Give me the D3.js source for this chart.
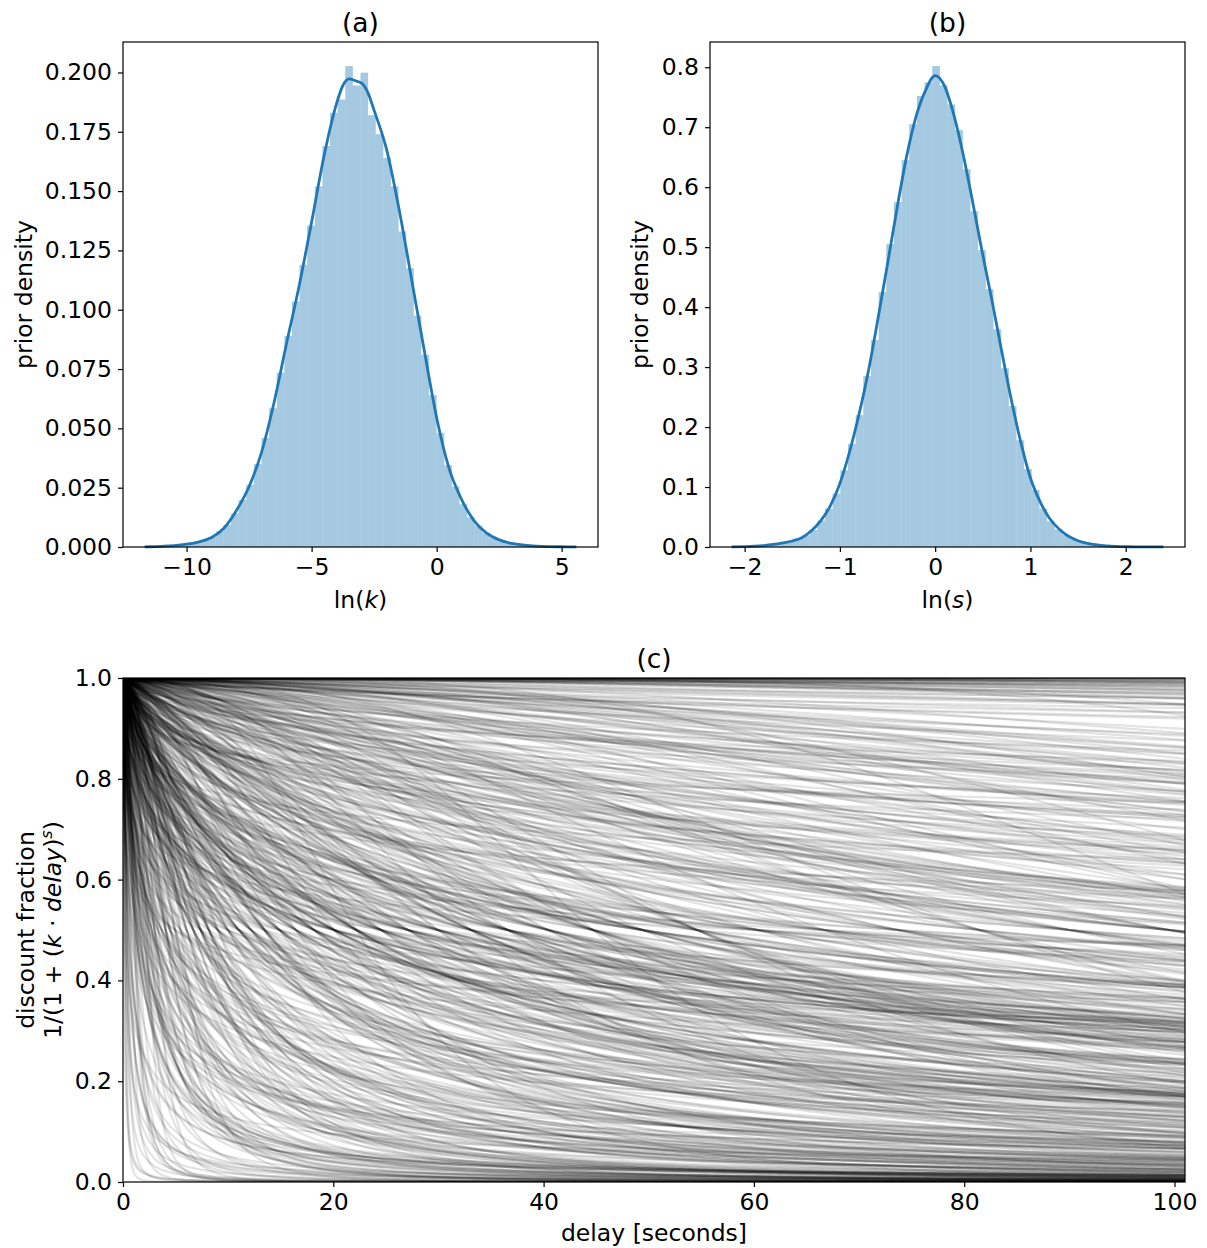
<!DOCTYPE html>
<html><head><meta charset="utf-8">
<script src="https://cdn.jsdelivr.net/npm/d3@7"></script>
<style>
html,body{margin:0;padding:0;background:#fff;}
svg{display:block;font-family:"DejaVu Sans",sans-serif;}
</style></head><body>
<svg id="chart" width="1207" height="1248"></svg>
<script>
// ---------------- data ----------------
// (a) histogram of ln(k): 50 bins
const lnkBinStart = -10.66;
const lnkBinWidth = 0.3046;
const lnkHist = [0.0005,0.0009,0.0014,0.0019,0.0028,0.0042,0.0066,0.0094,0.0142,0.0198,
  0.0262,0.0350,0.0460,0.0585,0.0735,0.0890,0.1035,0.1190,0.1355,0.1520,
  0.1690,0.1830,0.1886,0.2027,0.1945,0.1999,0.1820,0.1740,0.1640,0.1520,
  0.1330,0.1175,0.0975,0.0810,0.0640,0.0480,0.0345,0.0255,0.0180,0.0125,
  0.0090,0.0060,0.0038,0.0024,0.0014,0.0009,0.0005,0.0005,0.0,0.0005];
// (a) KDE of ln(k)
const lnkKdeX = [-11.68,-11.5,-11,-10.5,-10,-9.5,-9,-8.5,-8,-7.5,-7,-6.5,-6,-5.5,-5,-4.5,-4,-3.75,-3.5,-3.25,-3,-2.75,-2.5,-2,-1.5,-1,-0.5,0,0.5,1,1.5,2,2.5,3,3.5,4,4.5,5,5.59];
const lnkKdeY = [0.00005,0.0001,0.0003,0.0006,0.0012,0.0022,0.0040,0.0080,0.0155,0.0255,0.0400,0.0610,0.0860,0.1100,0.1370,0.1650,0.1870,0.1945,0.1973,0.1965,0.1955,0.1915,0.1840,0.1675,0.1422,0.1127,0.0831,0.0545,0.0330,0.0200,0.0110,0.0058,0.0030,0.0015,0.0008,0.0004,0.0002,0.0001,0.00003];

// (b) histogram of ln(s): 50 bins
const lnsBinStart = -1.88;
const lnsBinWidth = 0.0804;
const lnsHist = [0.0018,0.0036,0.0036,0.0071,0.0107,0.0143,0.0196,0.0285,0.0440,0.0640,
  0.0890,0.1280,0.1720,0.2200,0.2850,0.3450,0.4250,0.5050,0.5750,0.6450,
  0.7050,0.7520,0.7750,0.8020,0.7700,0.7380,0.6950,0.6300,0.5600,0.4950,
  0.4300,0.3630,0.2980,0.2350,0.1780,0.1300,0.0950,0.0640,0.0430,0.0290,
  0.0200,0.0125,0.0089,0.0054,0.0036,0.0018,0.0018,0.0,0.0018,0.0018];
// (b) KDE of ln(s)
const lnsKdeX = [-2.137,-2.0,-1.9,-1.8,-1.7,-1.6,-1.5,-1.4,-1.3,-1.2,-1.1,-1.0,-0.9,-0.8,-0.7,-0.6,-0.5,-0.4,-0.3,-0.2,-0.1,0.0,0.1,0.2,0.3,0.4,0.5,0.6,0.7,0.8,0.9,1.0,1.1,1.2,1.3,1.4,1.5,1.6,1.7,1.8,1.9,2.0,2.1,2.2,2.396];
const lnsKdeY = [0.0002,0.0007,0.0013,0.0024,0.0042,0.0068,0.0100,0.0155,0.0270,0.0440,0.0690,0.1060,0.1580,0.2210,0.2940,0.3810,0.4720,0.5650,0.6510,0.7180,0.7620,0.7860,0.7680,0.7180,0.6500,0.5700,0.4870,0.4080,0.3250,0.2450,0.1740,0.1150,0.0760,0.0480,0.0300,0.0180,0.0105,0.0060,0.0034,0.0019,0.0010,0.0005,0.0003,0.0002,0.00005];

// (c) prior samples (ln k, ln s) drawn as discount curves
const lnkSamples = [
-3.2,-5.9,-1.4,-4.6,-2.8,-6.4,-3.9,0.3,-2.1,-4.8,-3.5,-7.2,-1.9,-3.0,-5.3,-0.7,-4.2,-2.5,-8.3,-3.6,
-4.0,-1.1,-6.0,-3.3,-2.4,-5.1,-0.2,-3.8,-4.5,-2.0,-6.8,-3.1,-1.6,-4.9,-2.9,-9.1,-3.4,-5.6,-1.3,-4.3,
-2.6,-3.7,-7.6,-0.9,-4.1,-3.0,-5.4,-2.2,1.2,-3.6,-4.7,-6.2,-1.8,-3.2,-2.7,-5.0,-0.4,-4.4,-3.9,-7.0,
-1.5,-4.8,-3.3,-2.3,-6.6,-3.5,-0.1,-5.7,-2.9,-4.0,-1.0,-3.8,-8.7,-2.6,-4.6,-3.1,-5.2,-1.7,-6.1,-3.4,
-4.2,-2.0,-5.5,-3.0,0.8,-3.7,-6.9,-2.4,-4.5,-1.2,-3.6,-5.8,-2.8,-4.1,-0.6,-7.4,-3.2,-2.1,-4.9,-3.9,
-5.0,-1.9,-3.5,-6.3,-2.5,-4.3,-0.3,-3.1,-8.0,-2.7,-4.7,-1.4,-5.3,-3.8,-2.2,-6.7,-3.4,1.6,-4.4,-2.9,
-3.3,-7.8,-1.6,-4.0,-2.6,-5.6,-3.7,-0.8,-4.8,-3.0,-6.0,-2.3,-1.1,-3.5,-5.1,-2.0,-9.6,-4.2,-3.6,-0.5,
-2.8,-4.6,-6.5,-3.2,-1.8,-5.4,-3.9,-2.4,0.1,-4.1,-7.3,-3.0,-1.3,-4.9,-2.7,-5.9,-3.4,-0.9,-6.2,-3.8,
-4.5,-2.1,-3.6,-8.5,-1.5,-4.0,-2.9,-5.7,-0.2,-3.3,-6.6,-2.5,-4.7,-1.0,-3.1,-5.2,2.1,-3.7,-7.0,-2.2,
-3.9,-1.7,-5.0,-3.4,-6.1,-2.6,-4.3,-0.7,-3.0,-7.7,-2.0,-4.8,-1.4,-3.5,-5.5,-2.8,-10.2,-4.1,-0.4,-3.2,
-5.3,-2.3,-3.8,-1.2,-6.4,-4.4,-2.9,0.5,-3.6,-5.8,-1.9,-4.0,-7.1,-3.1,-2.4,-4.9,-0.1,-3.3,-6.0,-2.7,
-4.6,-1.6,-3.5,-8.1,-2.2,-5.1,-3.9,-0.6,-4.2,-2.8,-6.8,-1.1,-3.0,-5.6,-2.5,-4.7,1.0,-3.7,-7.5,-2.0,
-3.4,-5.2,-1.5,-4.1,-6.3,-2.6,-3.8,-0.3,-4.5,-9.0,-2.1,-3.2,-5.9,-1.8,-4.0,-2.9,-6.7,-0.9,-3.6,-4.8,
-2.4,-7.9,-3.1,-1.3,-5.4,-3.7,-2.0,-4.6,0.2,-6.1,-3.3,-2.7,-4.3,-1.0,-5.7,-3.5,-8.6,-2.2,-4.9,-1.7,
-3.9,-6.5,-2.8,-4.4,-0.8,-3.0,-5.0,-2.3,-7.2,-3.6,-1.4,-4.7,-2.6,1.4,-5.5,-3.2,-4.1,-1.9,-6.9,-3.8,
-2.1,-4.5,-0.5,-3.4,-6.2,-2.9,-5.3,-1.6,-3.7,-8.4,-2.4,-4.2,-0.2,-3.1,-5.8,-2.0,-4.8,-7.0,-3.5,-1.2,
-4.0,-2.7,-6.6,-3.3,-1.7,-5.1,-3.9,0.7,-4.6,-2.3,-7.6,-3.0,-1.0,-5.6,-2.5,-4.3,-3.6,-9.3,-1.5,-4.9,
-3.2,-5.4,-2.2,-0.7,-4.1,-6.0,-2.8,-3.8,-1.3,-5.0,-3.4,-7.4,-2.0,0.0,-4.4,-3.1,-5.7,-1.8,-3.7,-6.3,
-2.6,-4.7,-1.1,-3.5,-8.8,-2.4,-5.2,-3.0,-0.4,-4.2,-6.7,-1.9,-3.3,-5.5,-2.9,1.8,-4.5,-3.9,-2.1,-7.8,
-3.6,-1.4,-5.9,-2.7,-4.0,-0.9,-6.4,-3.2,-2.3,-4.8,-1.6,-3.8,-10.8,-2.5,-5.3,-3.4,-0.6,-4.6,-2.0,-6.1,
-3.7,-2.2,-5.6,-0.8,-4.3,-3.0,-6.9,-1.5,-3.5,-4.9,0.4,-2.6,-5.1,-3.3,-1.9,-7.3,-4.0,-2.8,-3.6,-0.3,
-5.0,-3.1,-1.2,-4.5,-2.5,-8.0,-3.8,-0.6,-4.7,-2.0,-6.2,-3.4,1.1,-4.1,-2.7,-5.4,-1.7,-3.9,-9.4,-2.3,
-4.4,-1.0,-3.2,-6.0,-2.9,-4.8,-0.1,-3.6,-5.7,-2.1,-7.0,-3.3,-1.4,-4.2,-2.6,-5.2,0.9,-3.8,-6.5,-2.4,
-3.0,-5.5,-1.8,-4.0,-7.7,-2.7,-3.5,-0.5,-4.6,-3.1,-6.3,-1.1,-5.0,-2.2,-3.7,1.5,-4.9,-2.9,-8.2,-3.4,
-1.6,-4.3,-3.9,-6.6,-2.5,-0.2,-5.3,-3.2,-2.0,-4.7,-7.4,-1.3,-3.6,-5.9,-2.8,-0.9,-4.1,-3.0,-6.1,-2.3,
-4.5,-2.6,-0.7,-3.8,-5.6,-1.9,-3.3,-8.9,-2.4,-4.4,0.6,-3.1,-6.8,-1.5,-5.1,-2.9,-4.0,-3.5,-1.0,-7.1,
-2.1,-3.9,-5.8,-0.4,-4.6,-3.2,-2.7,-6.4,-1.2,-4.2,-3.0,-9.8,-2.4,-5.4,0.3,-3.6,-4.8,-1.8,-3.3,-6.0,
-3.5,-1.7,-4.9,-2.9,-7.5,-0.8,-4.3,-3.1,-5.5,-2.2,2.4,-3.8,-6.7,-2.6,-4.5,-1.4,-3.0,-5.2,-0.3,-4.1,
-6.3,-2.8,-3.4,-1.1,-4.7,-8.3,-2.0,-5.0,-3.7,0.0,-4.4,-2.5,-6.0,-1.6,-3.2,-5.7,-2.3,-4.0,-7.2,-0.6,
-3.9,-5.3,-1.9,-3.0,-0.9,-4.6,-2.1,-6.6,-3.6,-1.3,-5.8,-2.7,-4.2,0.8,-3.3,-7.9,-2.4,-4.8,-1.5,-3.1];
const lnsSamples = [
0.12,-0.48,0.35,-0.07,0.71,-0.29,0.03,-0.62,0.44,-0.15,0.22,-0.91,0.58,-0.36,0.09,0.83,-0.21,-0.02,0.27,-0.55,
-0.11,0.41,-0.73,0.16,-0.34,0.65,0.00,-0.44,0.30,-1.12,0.52,-0.19,0.07,0.96,-0.58,0.19,-0.26,0.37,-0.05,-0.81,
0.25,-0.39,0.05,0.77,-0.13,-0.66,0.47,-0.24,0.14,-0.01,1.21,-0.50,0.33,-0.31,-0.09,0.60,-0.85,0.10,-0.43,0.40,
-0.17,0.54,-0.33,0.02,-0.70,0.28,0.89,-0.46,0.18,-0.27,-0.04,0.62,-1.30,0.36,-0.12,0.08,-0.53,0.48,0.21,-0.37,
0.31,-0.06,-0.59,0.43,0.11,-0.22,0.74,-0.95,0.04,-0.40,0.26,0.57,-0.14,-0.68,0.15,1.05,-0.30,0.38,-0.08,-0.47,
0.06,0.50,-0.25,-0.77,0.34,-0.10,0.67,-0.52,0.20,-0.03,-0.35,0.85,-0.18,0.13,-0.63,0.42,-1.02,0.24,-0.28,0.01,
-0.42,0.17,0.69,-0.20,-0.54,0.39,-0.08,1.34,-0.32,0.10,-0.75,0.29,0.53,-0.16,-0.45,0.05,0.80,-0.64,0.23,-0.11,
0.45,-0.23,0.08,-0.87,0.32,-0.38,0.61,-0.05,-0.57,0.19,0.92,-0.14,-0.30,0.36,-1.18,0.03,0.55,-0.49,0.14,-0.02,
-0.28,0.63,-0.09,0.26,-0.71,0.12,-0.41,0.47,0.00,-0.60,0.78,-0.19,0.21,-0.35,1.11,-0.83,0.35,-0.12,-0.50,0.09,
0.18,-0.65,0.40,-0.04,-0.31,0.70,-0.97,0.27,-0.15,0.51,-0.44,0.06,0.87,-0.24,0.15,-0.56,0.33,-1.45,0.02,-0.33,
-0.07,0.46,-0.51,0.23,-0.18,0.64,-0.36,0.04,-0.79,0.30,0.11,-0.27,0.99,-0.46,0.17,-0.01,-0.62,0.41,0.07,-0.21,
0.37,-0.13,-0.88,0.20,0.56,-0.40,0.09,-0.23,0.73,-0.58,0.28,-0.06,-1.05,0.44,-0.29,0.13,0.82,-0.35,-0.10,0.25,
-0.45,0.03,0.59,-0.15,-0.67,0.32,1.17,-0.26,0.16,-0.52,0.38,-0.03,-0.33,0.66,-0.90,0.10,-0.19,0.49,-0.41,0.22,
0.14,-0.30,0.43,-0.74,-0.02,0.58,-0.47,0.26,-0.12,0.94,-0.61,0.05,0.31,-0.38,-1.24,0.19,0.68,-0.17,0.01,-0.54,
-0.24,0.52,0.08,-0.43,0.36,-0.84,0.15,-0.09,0.75,-0.32,0.24,-0.64,-0.05,1.01,-0.20,0.45,-0.99,0.11,-0.37,0.29,
0.02,-0.57,0.34,0.62,-0.16,-0.39,0.21,-1.38,0.48,-0.08,0.13,-0.69,0.86,-0.25,0.04,0.39,-0.49,-0.14,0.27,-0.76,
0.55,-0.11,-0.34,0.18,1.26,-0.60,0.07,-0.22,0.42,-0.92,0.30,-0.04,0.61,-0.28,-0.46,0.12,0.79,-0.53,0.20,-0.16,
-0.39,0.26,0.71,-0.06,-0.78,0.35,-0.20,0.09,-0.55,0.50,-0.01,-1.08,0.22,0.88,-0.31,0.14,-0.42,0.57,-0.12,0.03,
0.28,-0.50,-0.13,0.46,-0.27,0.06,1.46,-0.66,0.17,-0.36,0.65,-0.07,-0.86,0.33,0.00,-0.23,0.51,-0.44,0.10,-0.58,
-0.03,0.40,-0.72,0.19,0.84,-0.17,-0.48,0.31,-0.09,0.60,-1.15,0.23,-0.30,0.05,0.72,-0.62,0.15,-0.25,0.44,-0.82,
0.09,-0.36,0.52,-0.18,0.27,-0.71,0.40,-0.04,0.81,-0.49,0.16,-0.26,-0.93,0.34,0.01,-0.58,0.63,-0.12,0.21,-0.41,
-0.30,0.13,0.74,-0.53,0.05,-0.17,0.45,-0.86,0.24,-0.08,1.08,-0.39,0.32,-0.22,-0.65,0.56,0.00,-0.47,0.18,0.38,
0.47,-0.09,-0.61,0.29,-0.33,0.11,0.90,-0.44,0.03,-0.75,0.36,-0.14,0.59,-1.21,0.20,-0.27,0.06,0.67,-0.52,-0.02,
-0.15,0.31,-0.40,0.70,-0.06,-0.89,0.22,0.49,-0.31,0.10,-0.56,1.31,-0.20,0.39,-0.01,-0.69,0.15,0.54,-0.37,0.08,
0.60,-0.24,0.12,-0.47,0.35,-0.03,-1.01,0.25,0.78,-0.35,0.04,-0.60,0.43,-0.13,0.19,-0.80,0.30,-0.07,1.14,-0.45,
-0.05,0.42,-0.28,0.16,-0.64,0.55,-0.11,0.02,-0.43,0.85,-0.19,0.27,-1.33,0.36,-0.50,0.07,0.66,-0.32,0.12,-0.76,
0.33,-0.57,0.01,-0.21,0.50,-0.94,0.18,0.72,-0.38,0.06,-0.14,0.41,-0.67,0.23,0.97,-0.29,-0.04,0.53,-0.48,0.14,
-0.42,0.21,0.64,-0.10,-0.73,0.37,-0.25,0.04,1.19,-0.54,0.28,-0.16,0.46,-0.99,0.09,-0.33,0.76,-0.07,0.17,-0.61,
0.26,-0.13,-0.46,0.58,0.03,-0.82,0.39,-0.23,0.11,-0.59,0.68,-0.02,-0.35,0.93,-0.18,0.20,-1.09,0.47,-0.28,0.08,
-0.20,0.50,0.13,-0.66,0.32,-0.09,0.82,-0.40,-0.01,0.24,-0.77,0.57,-0.27,0.15,-0.52,1.03,-0.12,0.35,-0.44,0.00];

// tick values
const lnkXTicks = [-10, -5, 0, 5];
const lnkYTicks = [0, 0.025, 0.05, 0.075, 0.1, 0.125, 0.15, 0.175, 0.2];
const lnsXTicks = [-2, -1, 0, 1, 2];
const lnsYTicks = [0, 0.1, 0.2, 0.3, 0.4, 0.5, 0.6, 0.7, 0.8];
const delayTicks = [0, 20, 40, 60, 80, 100];
const discountTicks = [0, 0.2, 0.4, 0.6, 0.8, 1.0];
const delayMax = 101;

// ---------------- drawing ----------------
const svg = d3.select("#chart");
const FS = 23.5, TFS = 26.5;
const BLUE = "#1f77b4";

function frame(g, b) {
  g.append("rect").attr("x", b.l).attr("y", b.t).attr("width", b.r - b.l).attr("height", b.b - b.t)
    .attr("fill", "none").attr("stroke", "#000").attr("stroke-width", 1.2);
}
function axes(g, b, x, y, xt, yt, xf, yf) {
  const ax = g.append("g").attr("transform", `translate(0,${b.b})`)
    .call(d3.axisBottom(x).tickValues(xt).tickFormat(xf).tickSize(5).tickPadding(6).tickSizeOuter(0));
  const ay = g.append("g").attr("transform", `translate(${b.l},0)`)
    .call(d3.axisLeft(y).tickValues(yt).tickFormat(yf).tickSize(5).tickPadding(6).tickSizeOuter(0));
  [ax, ay].forEach(a => {
    a.select(".domain").remove();
    a.attr("font-family", null).attr("font-size", null);
    a.selectAll("text").attr("font-size", FS).attr("font-family", "DejaVu Sans").attr("fill", "#000");
    a.selectAll("line").attr("stroke", "#000").attr("stroke-width", 1.2);
  });
}
function histPanel(b, binStart, binW, hist, kx, ky, xt, yt, yf, title, varName, ylabelX) {
  const g = svg.append("g");
  const lo = d3.min(kx), hi = d3.max(kx), R = hi - lo;
  const x = d3.scaleLinear().domain([lo - 0.05 * R, hi + 0.05 * R]).range([b.l, b.r]);
  const y = d3.scaleLinear().domain([0, 1.05 * d3.max(hist)]).range([b.b, b.t]);
  g.append("g").selectAll("rect").data(hist).join("rect")
    .attr("x", (d, i) => x(binStart + i * binW))
    .attr("width", (d, i) => x(binStart + (i + 1) * binW) - x(binStart + i * binW))
    .attr("y", d => y(d)).attr("height", d => y(0) - y(d))
    .attr("fill", BLUE).attr("fill-opacity", 0.4);
  const line = d3.line().x(d => x(d[0])).y(d => y(d[1])).curve(d3.curveMonotoneX);
  g.append("path").datum(kx.map((v, i) => [v, ky[i]])).attr("d", line)
    .attr("fill", "none").attr("stroke", BLUE).attr("stroke-width", 2.8).attr("stroke-linejoin", "round");
  axes(g, b, x, y, xt, yt, d3.format("d"), yf);
  frame(g, b);
  const cx = (b.l + b.r) / 2;
  g.append("text").attr("x", cx).attr("y", 32).attr("text-anchor", "middle").attr("font-size", TFS).text(title);
  const xl = g.append("text").attr("x", cx).attr("y", 608).attr("text-anchor", "middle").attr("font-size", FS);
  xl.append("tspan").text("ln(");
  xl.append("tspan").attr("font-style", "italic").text(varName);
  xl.append("tspan").text(")");
  g.append("text").attr("transform", `translate(${ylabelX},${(b.t + b.b) / 2}) rotate(-90)`)
    .attr("text-anchor", "middle").attr("font-size", FS).text("prior density");
}

const bA = {l: 123, r: 598, t: 42, b: 547};
const bB = {l: 710, r: 1185, t: 42, b: 547};
const bC = {l: 123, r: 1185, t: 678, b: 1182};

histPanel(bA, lnkBinStart, lnkBinWidth, lnkHist, lnkKdeX, lnkKdeY, lnkXTicks, lnkYTicks, d3.format(".3f"), "(a)", "k", 32);
histPanel(bB, lnsBinStart, lnsBinWidth, lnsHist, lnsKdeX, lnsKdeY, lnsXTicks, lnsYTicks, d3.format(".1f"), "(b)", "s", 648);

// panel (c)
{
  const g = svg.append("g");
  const x = d3.scaleLinear().domain([0, delayMax]).range([bC.l, bC.r]);
  const y = d3.scaleLinear().domain([0, 1]).range([bC.b, bC.t]);
  g.append("clipPath").attr("id", "clipC").append("rect")
    .attr("x", bC.l).attr("y", bC.t).attr("width", bC.r - bC.l).attr("height", bC.b - bC.t);
  const grid = d3.range(0, 2, 0.02).concat(d3.range(2, delayMax + 0.001, 0.5));
  const n = Math.min(lnkSamples.length, lnsSamples.length);
  const curves = d3.range(n).map(i => {
    const k = Math.exp(lnkSamples[i]), s = Math.exp(lnsSamples[i]);
    return grid.map(d => [d, 1 / (1 + Math.pow(k * d, s))]);
  });
  const line = d3.line().x(d => x(d[0])).y(d => y(d[1]));
  g.append("g").attr("clip-path", "url(#clipC)").selectAll("path").data(curves).join("path")
    .attr("d", line).attr("fill", "none").attr("stroke", "#000").attr("stroke-opacity", 0.11)
    .attr("stroke-width", 2.2);
  axes(g, bC, x, y, delayTicks, discountTicks, d3.format("d"), d3.format(".1f"));
  frame(g, bC);
  const cx = (bC.l + bC.r) / 2, cy = (bC.t + bC.b) / 2;
  g.append("text").attr("x", cx).attr("y", 668).attr("text-anchor", "middle").attr("font-size", TFS).text("(c)");
  g.append("text").attr("x", cx).attr("y", 1241).attr("text-anchor", "middle").attr("font-size", FS).text("delay [seconds]");
  g.append("text").attr("transform", `translate(34,${cy}) rotate(-90)`).attr("text-anchor", "middle")
    .attr("font-size", FS).text("discount fraction");
  const t2 = g.append("text").attr("transform", `translate(61,${cy}) rotate(-90)`).attr("text-anchor", "middle")
    .attr("font-size", FS);
  t2.append("tspan").text("1/(1 + (");
  t2.append("tspan").attr("font-style", "italic").text("k");
  t2.append("tspan").text(" · ");
  t2.append("tspan").attr("font-style", "italic").text("delay");
  t2.append("tspan").text(")");
  t2.append("tspan").attr("font-style", "italic").attr("font-size", 16).attr("dy", -9).text("s");
  t2.append("tspan").attr("dy", 9).text(")");
}
</script>
</body></html>
